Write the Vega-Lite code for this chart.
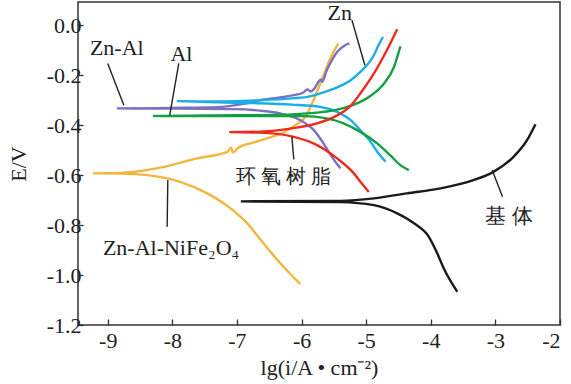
{
  "$schema": "https://vega.github.io/schema/vega-lite/v6.json",
  "width": 482,
  "height": 323,
  "autosize": {"type": "none"},
  "padding": {"left": 78, "top": 2, "right": 11, "bottom": 59},
  "background": "white",
  "config": {
    "font": "Liberation Serif",
    "view": {"stroke": "#333333", "strokeWidth": 1.5},
    "axis": {"grid": false, "domain": false, "tickColor": "#333333", "tickWidth": 1.3, "labelColor": "#222222", "titleColor": "#222222", "labelFont": "Liberation Serif", "titleFont": "Liberation Serif", "titleFontWeight": "normal"}
  },
  "datasets": {
    "curves": [
      {"s": "基体", "o": 1, "x": -3.59, "y": -1.067},
      {"s": "基体", "o": 2, "x": -3.80, "y": -0.973},
      {"s": "基体", "o": 3, "x": -3.90, "y": -0.913},
      {"s": "基体", "o": 4, "x": -4.03, "y": -0.847},
      {"s": "基体", "o": 5, "x": -4.26, "y": -0.793},
      {"s": "基体", "o": 6, "x": -4.52, "y": -0.753},
      {"s": "基体", "o": 7, "x": -4.88, "y": -0.72},
      {"s": "基体", "o": 8, "x": -5.40, "y": -0.708},
      {"s": "基体", "o": 9, "x": -6.94, "y": -0.705},
      {"s": "基体", "o": 10, "x": -5.40, "y": -0.703},
      {"s": "基体", "o": 11, "x": -4.88, "y": -0.693},
      {"s": "基体", "o": 12, "x": -4.37, "y": -0.673},
      {"s": "基体", "o": 13, "x": -3.85, "y": -0.653},
      {"s": "基体", "o": 14, "x": -3.34, "y": -0.62},
      {"s": "基体", "o": 15, "x": -3.03, "y": -0.587},
      {"s": "基体", "o": 16, "x": -2.72, "y": -0.527},
      {"s": "基体", "o": 17, "x": -2.51, "y": -0.46},
      {"s": "基体", "o": 18, "x": -2.38, "y": -0.396},

      {"s": "Zn-Al-NiFe2O4", "o": 1, "x": -6.02, "y": -1.036},
      {"s": "Zn-Al-NiFe2O4", "o": 2, "x": -6.28, "y": -0.967},
      {"s": "Zn-Al-NiFe2O4", "o": 3, "x": -6.59, "y": -0.873},
      {"s": "Zn-Al-NiFe2O4", "o": 4, "x": -6.84, "y": -0.793},
      {"s": "Zn-Al-NiFe2O4", "o": 5, "x": -7.10, "y": -0.733},
      {"s": "Zn-Al-NiFe2O4", "o": 6, "x": -7.46, "y": -0.673},
      {"s": "Zn-Al-NiFe2O4", "o": 7, "x": -7.88, "y": -0.627},
      {"s": "Zn-Al-NiFe2O4", "o": 8, "x": -8.39, "y": -0.60},
      {"s": "Zn-Al-NiFe2O4", "o": 9, "x": -8.80, "y": -0.594},
      {"s": "Zn-Al-NiFe2O4", "o": 10, "x": -9.23, "y": -0.593},
      {"s": "Zn-Al-NiFe2O4", "o": 11, "x": -8.80, "y": -0.591},
      {"s": "Zn-Al-NiFe2O4", "o": 12, "x": -8.13, "y": -0.567},
      {"s": "Zn-Al-NiFe2O4", "o": 13, "x": -7.62, "y": -0.533},
      {"s": "Zn-Al-NiFe2O4", "o": 14, "x": -7.15, "y": -0.507},
      {"s": "Zn-Al-NiFe2O4", "o": 15, "x": -7.09, "y": -0.49},
      {"s": "Zn-Al-NiFe2O4", "o": 16, "x": -7.06, "y": -0.51},
      {"s": "Zn-Al-NiFe2O4", "o": 17, "x": -6.98, "y": -0.49},
      {"s": "Zn-Al-NiFe2O4", "o": 18, "x": -6.75, "y": -0.47},
      {"s": "Zn-Al-NiFe2O4", "o": 19, "x": -6.50, "y": -0.45},
      {"s": "Zn-Al-NiFe2O4", "o": 20, "x": -6.29, "y": -0.431},
      {"s": "Zn-Al-NiFe2O4", "o": 21, "x": -6.10, "y": -0.40},
      {"s": "Zn-Al-NiFe2O4", "o": 22, "x": -5.93, "y": -0.363},
      {"s": "Zn-Al-NiFe2O4", "o": 23, "x": -5.815, "y": -0.30},
      {"s": "Zn-Al-NiFe2O4", "o": 24, "x": -5.67, "y": -0.207},
      {"s": "Zn-Al-NiFe2O4", "o": 25, "x": -5.55, "y": -0.13},
      {"s": "Zn-Al-NiFe2O4", "o": 26, "x": -5.43, "y": -0.073},

      {"s": "Zn-Al", "o": 1, "x": -5.40, "y": -0.573},
      {"s": "Zn-Al", "o": 2, "x": -5.53, "y": -0.527},
      {"s": "Zn-Al", "o": 3, "x": -5.66, "y": -0.473},
      {"s": "Zn-Al", "o": 4, "x": -5.81, "y": -0.42},
      {"s": "Zn-Al", "o": 5, "x": -6.02, "y": -0.38},
      {"s": "Zn-Al", "o": 6, "x": -6.33, "y": -0.353},
      {"s": "Zn-Al", "o": 7, "x": -6.64, "y": -0.342},
      {"s": "Zn-Al", "o": 8, "x": -7.05, "y": -0.336},
      {"s": "Zn-Al", "o": 9, "x": -8.00, "y": -0.334},
      {"s": "Zn-Al", "o": 10, "x": -8.86, "y": -0.333},
      {"s": "Zn-Al", "o": 11, "x": -8.00, "y": -0.331},
      {"s": "Zn-Al", "o": 12, "x": -7.30, "y": -0.328},
      {"s": "Zn-Al", "o": 13, "x": -6.90, "y": -0.315},
      {"s": "Zn-Al", "o": 14, "x": -6.64, "y": -0.30},
      {"s": "Zn-Al", "o": 15, "x": -6.33, "y": -0.289},
      {"s": "Zn-Al", "o": 16, "x": -6.12, "y": -0.28},
      {"s": "Zn-Al", "o": 17, "x": -5.97, "y": -0.269},
      {"s": "Zn-Al", "o": 18, "x": -5.91, "y": -0.257},
      {"s": "Zn-Al", "o": 19, "x": -5.86, "y": -0.265},
      {"s": "Zn-Al", "o": 20, "x": -5.79, "y": -0.249},
      {"s": "Zn-Al", "o": 21, "x": -5.74, "y": -0.227},
      {"s": "Zn-Al", "o": 22, "x": -5.70, "y": -0.217},
      {"s": "Zn-Al", "o": 23, "x": -5.68, "y": -0.226},
      {"s": "Zn-Al", "o": 24, "x": -5.61, "y": -0.18},
      {"s": "Zn-Al", "o": 25, "x": -5.53, "y": -0.14},
      {"s": "Zn-Al", "o": 26, "x": -5.45, "y": -0.107},
      {"s": "Zn-Al", "o": 27, "x": -5.35, "y": -0.084},
      {"s": "Zn-Al", "o": 28, "x": -5.26, "y": -0.073},

      {"s": "Zn", "o": 1, "x": -4.70, "y": -0.546},
      {"s": "Zn", "o": 2, "x": -4.81, "y": -0.513},
      {"s": "Zn", "o": 3, "x": -4.93, "y": -0.467},
      {"s": "Zn", "o": 4, "x": -5.09, "y": -0.42},
      {"s": "Zn", "o": 5, "x": -5.24, "y": -0.38},
      {"s": "Zn", "o": 6, "x": -5.45, "y": -0.347},
      {"s": "Zn", "o": 7, "x": -5.71, "y": -0.327},
      {"s": "Zn", "o": 8, "x": -6.15, "y": -0.318},
      {"s": "Zn", "o": 9, "x": -6.72, "y": -0.312},
      {"s": "Zn", "o": 10, "x": -7.28, "y": -0.309},
      {"s": "Zn", "o": 11, "x": -7.93, "y": -0.304},
      {"s": "Zn", "o": 12, "x": -7.28, "y": -0.305},
      {"s": "Zn", "o": 13, "x": -6.72, "y": -0.301},
      {"s": "Zn", "o": 14, "x": -6.15, "y": -0.293},
      {"s": "Zn", "o": 15, "x": -5.87, "y": -0.285},
      {"s": "Zn", "o": 16, "x": -5.71, "y": -0.273},
      {"s": "Zn", "o": 17, "x": -5.45, "y": -0.249},
      {"s": "Zn", "o": 18, "x": -5.24, "y": -0.22},
      {"s": "Zn", "o": 19, "x": -5.09, "y": -0.187},
      {"s": "Zn", "o": 20, "x": -4.99, "y": -0.16},
      {"s": "Zn", "o": 21, "x": -4.88, "y": -0.12},
      {"s": "Zn", "o": 22, "x": -4.81, "y": -0.08},
      {"s": "Zn", "o": 23, "x": -4.74, "y": -0.047},

      {"s": "Al", "o": 1, "x": -4.34, "y": -0.58},
      {"s": "Al", "o": 2, "x": -4.47, "y": -0.56},
      {"s": "Al", "o": 3, "x": -4.63, "y": -0.52},
      {"s": "Al", "o": 4, "x": -4.83, "y": -0.473},
      {"s": "Al", "o": 5, "x": -5.09, "y": -0.427},
      {"s": "Al", "o": 6, "x": -5.35, "y": -0.393},
      {"s": "Al", "o": 7, "x": -5.61, "y": -0.373},
      {"s": "Al", "o": 8, "x": -5.97, "y": -0.364},
      {"s": "Al", "o": 9, "x": -6.60, "y": -0.364},
      {"s": "Al", "o": 10, "x": -7.50, "y": -0.364},
      {"s": "Al", "o": 11, "x": -8.30, "y": -0.363},
      {"s": "Al", "o": 12, "x": -7.50, "y": -0.361},
      {"s": "Al", "o": 13, "x": -6.60, "y": -0.36},
      {"s": "Al", "o": 14, "x": -5.86, "y": -0.352},
      {"s": "Al", "o": 15, "x": -5.45, "y": -0.338},
      {"s": "Al", "o": 16, "x": -5.19, "y": -0.318},
      {"s": "Al", "o": 17, "x": -4.93, "y": -0.282},
      {"s": "Al", "o": 18, "x": -4.73, "y": -0.235},
      {"s": "Al", "o": 19, "x": -4.57, "y": -0.167},
      {"s": "Al", "o": 20, "x": -4.47, "y": -0.084},

      {"s": "环氧树脂", "o": 1, "x": -4.96, "y": -0.667},
      {"s": "环氧树脂", "o": 2, "x": -5.08, "y": -0.63},
      {"s": "环氧树脂", "o": 3, "x": -5.19, "y": -0.593},
      {"s": "环氧树脂", "o": 4, "x": -5.45, "y": -0.533},
      {"s": "环氧树脂", "o": 5, "x": -5.76, "y": -0.48},
      {"s": "环氧树脂", "o": 6, "x": -6.12, "y": -0.447},
      {"s": "环氧树脂", "o": 7, "x": -6.64, "y": -0.43},
      {"s": "环氧树脂", "o": 8, "x": -7.12, "y": -0.428},
      {"s": "环氧树脂", "o": 9, "x": -6.64, "y": -0.426},
      {"s": "环氧树脂", "o": 10, "x": -6.15, "y": -0.413},
      {"s": "环氧树脂", "o": 11, "x": -5.76, "y": -0.393},
      {"s": "环氧树脂", "o": 12, "x": -5.48, "y": -0.365},
      {"s": "环氧树脂", "o": 13, "x": -5.25, "y": -0.325},
      {"s": "环氧树脂", "o": 14, "x": -5.09, "y": -0.273},
      {"s": "环氧树脂", "o": 15, "x": -4.88, "y": -0.193},
      {"s": "环氧树脂", "o": 16, "x": -4.68, "y": -0.10},
      {"s": "环氧树脂", "o": 17, "x": -4.52, "y": -0.016}
    ],
    "leaders": [
      {"x": -5.22, "y": 0.02, "x2": -5.02, "y2": -0.16},
      {"x": -9.0, "y": -0.153, "x2": -8.75, "y2": -0.32},
      {"x": -7.90, "y": -0.153, "x2": -8.04, "y2": -0.36},
      {"x": -6.15, "y": -0.447, "x2": -6.12, "y2": -0.537},
      {"x": -3.05, "y": -0.58, "x2": -2.89, "y2": -0.687},
      {"x": -8.07, "y": -0.62, "x2": -8.08, "y2": -0.807}
    ],
    "labels": [
      {"t": "Zn", "x": -5.41, "y": 0.047, "f": "Liberation Serif", "z": 22},
      {"t": "Zn-Al", "x": -8.86, "y": -0.093, "f": "Liberation Serif", "z": 22},
      {"t": "Al", "x": -7.86, "y": -0.116, "f": "Liberation Serif", "z": 22},
      {"t": "Zn-Al-NiFe₂O₄", "x": -8.02, "y": -0.893, "f": "Liberation Serif", "z": 22},
      {"t": "环 氧 树 脂", "x": -6.28, "y": -0.607, "f": "Noto Sans CJK SC", "z": 20},
      {"t": "基 体", "x": -2.79, "y": -0.767, "f": "Noto Sans CJK SC", "z": 21}
    ]
  },
  "layer": [
    {
      "data": {"name": "curves"},
      "mark": {"type": "line", "strokeWidth": 2.4, "interpolate": "monotone"},
      "encoding": {
        "x": {"field": "x", "type": "quantitative", "scale": {"domain": [-9.46, -2], "nice": false, "zero": false},
          "axis": {"values": [-9, -8, -7, -6, -5, -4, -3, -2], "format": "d", "labelExpr": "replace(datum.label, '−', '-')", "tickSize": -6, "labelFontSize": 22, "labelPadding": 11, "title": "lg(i/A • cm⁻²)", "titleFontSize": 22, "titlePadding": 6}},
        "y": {"field": "y", "type": "quantitative", "scale": {"domain": [-1.2, 0.093], "nice": false, "zero": false},
          "axis": {"values": [-1.2, -1.0, -0.8, -0.6, -0.4, -0.2, 0.0], "format": ".1f", "labelExpr": "replace(datum.label, '−', '-')", "tickSize": -5, "labelFontSize": 22, "labelPadding": 2, "title": "E/V", "titleFontSize": 22, "titlePadding": 16}},
        "order": {"field": "o", "type": "quantitative"},
        "color": {"field": "s", "type": "nominal", "legend": null,
          "scale": {"domain": ["基体", "Zn-Al-NiFe2O4", "Al", "环氧树脂", "Zn", "Zn-Al"], "range": ["#1a1a1a", "#f2b63c", "#13a042", "#ec2b1f", "#1aaee6", "#7b70c4"]}}
      }
    },
    {
      "data": {"name": "leaders"},
      "mark": {"type": "rule", "color": "#222222", "strokeWidth": 1.4},
      "encoding": {
        "x": {"field": "x", "type": "quantitative"},
        "y": {"field": "y", "type": "quantitative"},
        "x2": {"field": "x2"},
        "y2": {"field": "y2"}
      }
    },
    {
      "data": {"name": "labels"},
      "mark": {"type": "text", "color": "#222222", "align": "center", "baseline": "middle"},
      "encoding": {
        "x": {"field": "x", "type": "quantitative"},
        "y": {"field": "y", "type": "quantitative"},
        "text": {"field": "t"},
        "font": {"field": "f"},
        "size": {"field": "z", "type": "quantitative", "scale": null}
      }
    }
  ]
}
